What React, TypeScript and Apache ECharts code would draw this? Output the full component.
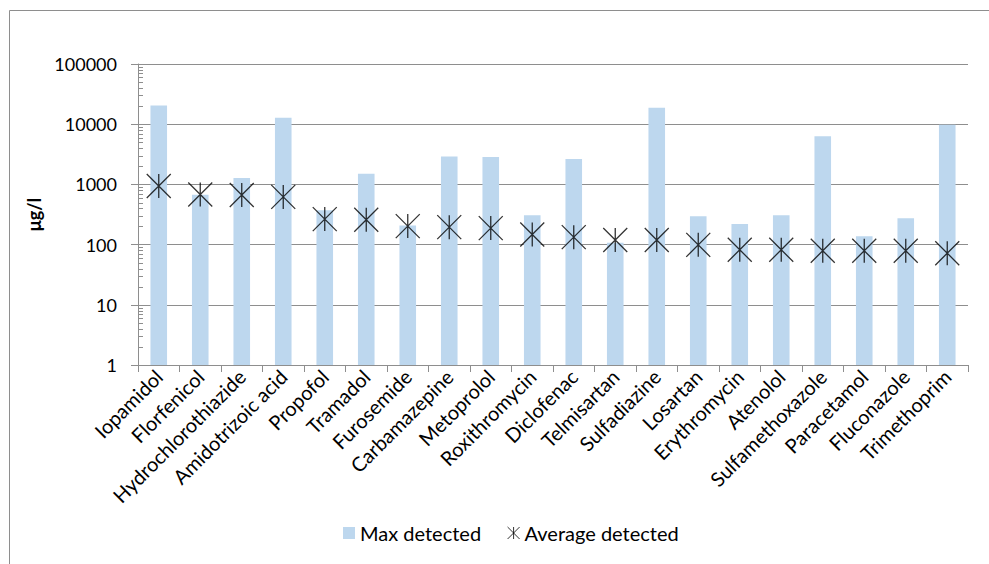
import { useEffect, useRef } from 'react';
import * as echarts from 'echarts';

// Compounds in order of decreasing average concentration
const compounds = [
  'Iopamidol', 'Florfenicol', 'Hydrochlorothiazide', 'Amidotrizoic acid', 'Propofol',
  'Tramadol', 'Furosemide', 'Carbamazepine', 'Metoprolol', 'Roxithromycin',
  'Diclofenac', 'Telmisartan', 'Sulfadiazine', 'Losartan', 'Erythromycin',
  'Atenolol', 'Sulfamethoxazole', 'Paracetamol', 'Fluconazole', 'Trimethoprim',
];

// Maximum detected concentration (µg/l)
const maxDetected = [
  20500, 670, 1280, 12800, 373,
  1500, 207, 2900, 2860, 308,
  2650, 107, 18800, 297, 219,
  308, 6300, 138, 275, 9800,
];

// Average detected concentration (µg/l)
const avgDetected = [
  940, 680, 665, 620, 265,
  258, 203, 195, 188, 147,
  133, 119, 119, 99, 82,
  82, 79, 79, 79, 72,
];

// Log-axis decades and the intermediate minor-tick multipliers
const decades = [1, 10, 100, 1000, 10000];
const minorMultipliers = [2, 3, 4, 5, 6, 7, 8, 9];

const FONT = 'Lato, "Open Sans", sans-serif';
const AXIS_GRAY = '#8e8e8e';
const BAR_BLUE = '#bdd7ee';
const STAR_PATH = 'path://M0 0L10 10M10 0L0 10M5 0L5 10';

export default function App() {
  const ref = useRef<HTMLDivElement>(null);

  useEffect(() => {
    if (!ref.current) return;
    const chart = echarts.init(ref.current, undefined, { renderer: 'svg' });

    const minorTicks: number[][] = [];
    decades.forEach((d) => minorMultipliers.forEach((m) => minorTicks.push([0, d * m])));

    chart.setOption({
      animation: false,
      backgroundColor: '#fff',
      textStyle: { fontFamily: FONT },
      graphic: [
        {
          type: 'rect',
          shape: { x: 9.5, y: 10.5, width: 1200, height: 800 },
          style: { fill: 'none', stroke: AXIS_GRAY, lineWidth: 1 },
          silent: true,
          z: -10,
        },
      ],
      grid: { left: 138, right: 21, top: 64, bottom: 199, containLabel: false },
      legend: {
        left: 338,
        top: 518,
        itemGap: 26,
        itemWidth: 12,
        itemHeight: 12,
        textStyle: { fontFamily: FONT, fontSize: 20, color: '#000' },
        data: [
          { name: 'Max detected', icon: 'rect' },
          {
            name: 'Average detected',
            icon: STAR_PATH,
            itemStyle: { color: 'rgba(0,0,0,0)', borderColor: '#000', borderWidth: 1 },
          },
        ],
      },
      xAxis: {
        type: 'category',
        data: compounds,
        boundaryGap: true,
        axisLine: { show: true, lineStyle: { color: AXIS_GRAY, width: 1 } },
        axisTick: { show: true, length: 7, alignWithLabel: false, lineStyle: { color: AXIS_GRAY } },
        axisLabel: {
          interval: 0,
          rotate: 45,
          margin: 8,
          fontFamily: FONT,
          fontSize: 20,
          color: '#000',
        },
      },
      yAxis: {
        type: 'log',
        logBase: 10,
        min: 1,
        max: 100000,
        name: 'μg/l',
        nameLocation: 'middle',
        nameGap: 95,
        nameRotate: 90,
        nameTextStyle: { fontFamily: FONT, fontSize: 18, fontWeight: 'bold', color: '#000' },
        axisLine: { show: true, lineStyle: { color: AXIS_GRAY, width: 1 } },
        axisTick: { show: true, length: 7, inside: false, lineStyle: { color: AXIS_GRAY } },
        axisLabel: {
          margin: 21,
          fontFamily: FONT,
          fontSize: 18,
          color: '#000',
          formatter: (v: number) => String(Math.round(v)),
        },
        splitLine: { show: true, lineStyle: { color: AXIS_GRAY, width: 1 } },
      },
      series: [
        {
          name: 'Max detected',
          type: 'bar',
          data: maxDetected,
          barWidth: '40%',
          itemStyle: { color: BAR_BLUE },
          z: 2,
        },
        {
          name: 'Average detected',
          type: 'scatter',
          data: avgDetected,
          symbol: STAR_PATH,
          symbolSize: 24,
          itemStyle: { color: 'rgba(0,0,0,0)', borderColor: '#000', borderWidth: 1.3 },
          z: 3,
        },
        {
          name: 'minor ticks',
          type: 'custom',
          silent: true,
          data: minorTicks,
          encode: { x: 0, y: 1 },
          clip: false,
          z: 4,
          renderItem: (params: any, api: any) => {
            const y = Math.round(api.coord([0, api.value(1)])[1]) + 0.5;
            const x = params.coordSys.x;
            return {
              type: 'line',
              shape: { x1: x, y1: y, x2: x + 5, y2: y },
              style: { stroke: AXIS_GRAY, lineWidth: 1 },
            };
          },
        },
      ],
    });

    return () => chart.dispose();
  }, []);

  return (
    <div
      ref={ref}
      style={{ position: 'fixed', left: 0, top: 0, width: 989, height: 564 }}
    />
  );
}
